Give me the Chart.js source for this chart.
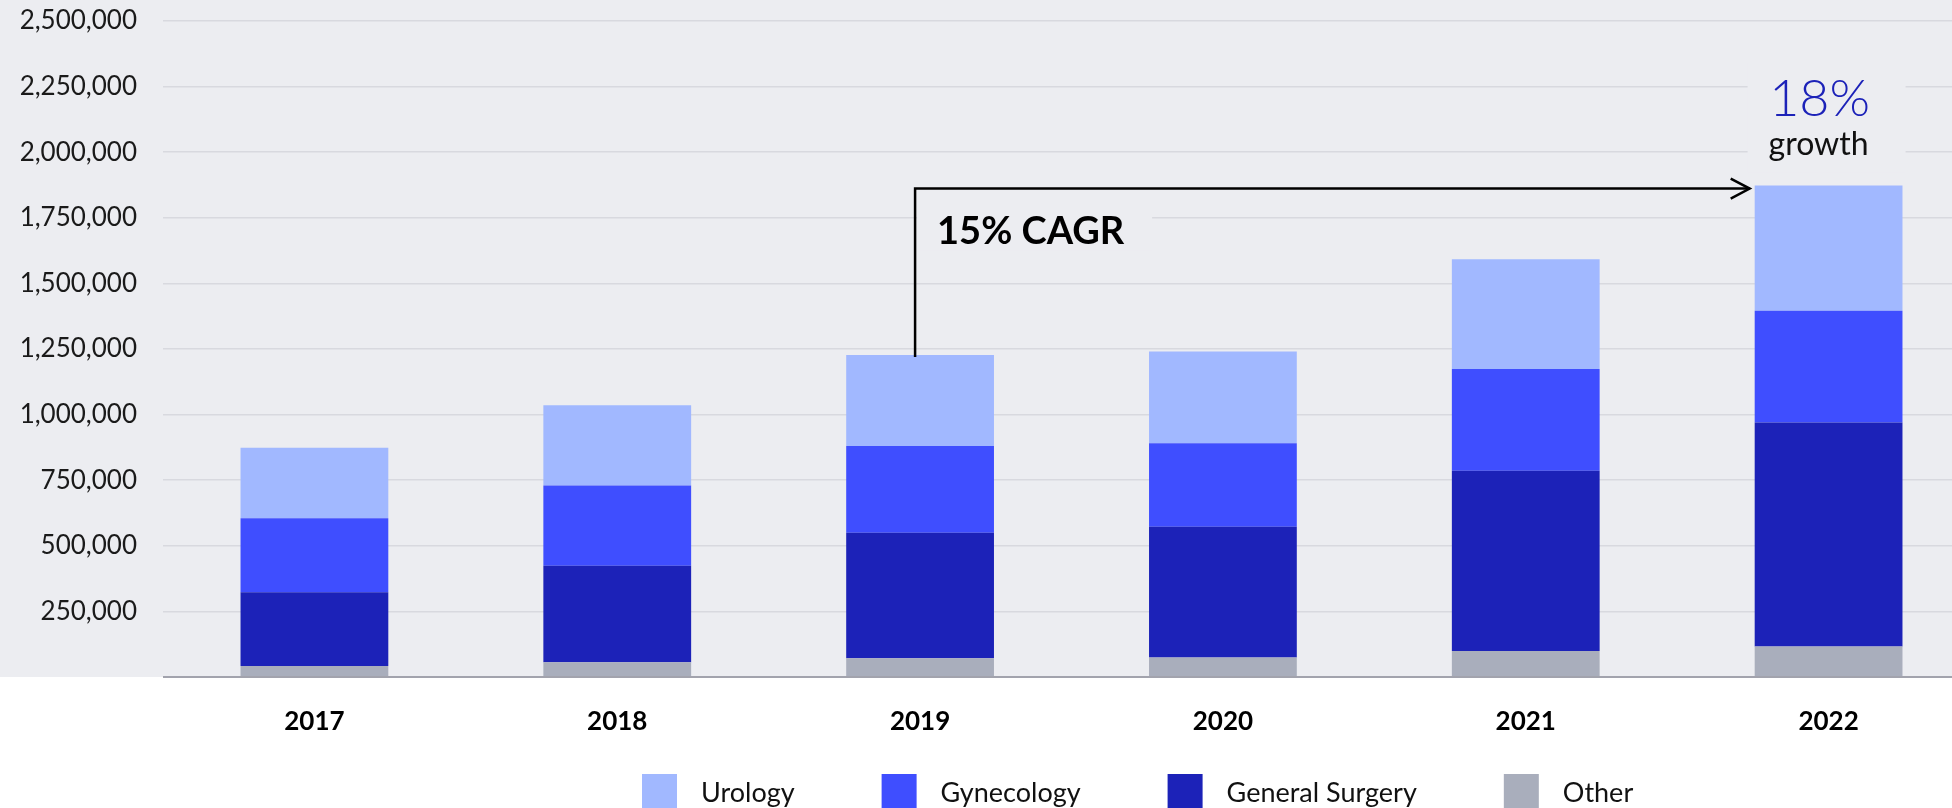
<!DOCTYPE html>
<html>
<head>
<meta charset="utf-8">
<script src="https://cdn.jsdelivr.net/npm/chart.js@4"></script>
<style>
  html, body { margin: 0; padding: 0; background: #ffffff; overflow: hidden; }
  #wrap { position: relative; width: 1980px; height: 808px; }
</style>
</head>
<body>
<div id="wrap"><canvas id="procedures_chart"></canvas></div>
<script>
// values (procedures per year)
const years           = ['2017', '2018', '2019', '2020', '2021', '2022']
const urology         = [269000, 306000, 347000, 349000, 418000, 477000]
const gynecology      = [282000, 306000, 330000, 318000, 388000, 426000]
const general_surgery = [281000, 368000, 479000, 499000, 687000, 854000]
const other           = [42000, 56000, 71000, 74000, 99000, 116000]

const y_max  = 2500000
const y_step = 250000

const cagr_label   = '15% CAGR'
const growth_pct   = '18%'
const growth_word  = 'growth'
const cagr_from    = 2   // index of 2019
const cagr_to      = 5   // index of 2022

const FONT = 'Lato, "Open Sans", sans-serif'
const BG   = '#ecedf1'

// legend order as shown under the chart
const legend_items = [
  { label: 'Urology',         color: '#a1b8ff' },
  { label: 'Gynecology',      color: '#3f4eff' },
  { label: 'General Surgery', color: '#1c22b8' },
  { label: 'Other',           color: '#a9aebc' }
]

// grey panel behind the plot, white under the axis
const panel_plugin = {
  id: 'panel',
  beforeDraw(chart) {
    const { ctx, chartArea } = chart
    ctx.save()
    ctx.fillStyle = '#ffffff'
    ctx.fillRect(0, 0, chart.width, chart.height)
    ctx.fillStyle = BG
    ctx.fillRect(0, 0, chart.width, chartArea.bottom)
    ctx.restore()
  }
}

// bracket arrow + labels
const annotation_plugin = {
  id: 'cagr_annotation',
  afterDraw(chart) {
    const { ctx } = chart
    const x_scale = chart.scales.x
    const y_scale = chart.scales.y
    const totals = years.map((_, i) => urology[i] + gynecology[i] + general_surgery[i] + other[i])
    const bar = chart.getDatasetMeta(0).data[cagr_to]
    const half_w = bar.width / 2

    const x_start = x_scale.getPixelForValue(cagr_from) - 5
    const y_start = y_scale.getPixelForValue(totals[cagr_from]) + 2
    const y_line  = y_scale.getPixelForValue(totals[cagr_to]) + 3
    const x_end   = x_scale.getPixelForValue(cagr_to) - half_w - 5

    ctx.save()
    // label backgrounds hide the grid lines
    ctx.fillStyle = BG
    ctx.fillRect(x_start + 2, y_line + 12, 235, 50)
    const gx = x_scale.getPixelForValue(cagr_to)
    ctx.fillRect(gx - 81, y_line - 126, 158, 110)

    ctx.strokeStyle = '#000000'
    ctx.lineWidth = 2.5
    ctx.beginPath()
    ctx.moveTo(x_start, y_start)
    ctx.lineTo(x_start, y_line)
    ctx.lineTo(x_end, y_line)
    ctx.stroke()
    ctx.beginPath()
    ctx.moveTo(x_end - 19, y_line - 10)
    ctx.lineTo(x_end, y_line)
    ctx.lineTo(x_end - 19, y_line + 10)
    ctx.stroke()

    ctx.fillStyle = '#000000'
    ctx.font = 'bold 38px ' + FONT
    ctx.textAlign = 'left'
    ctx.textBaseline = 'alphabetic'
    ctx.fillText(cagr_label, x_start + 22, y_line + 55)

    const bar_top = y_scale.getPixelForValue(totals[cagr_to])
    ctx.textAlign = 'center'
    ctx.fillStyle = '#1c22b8'
    ctx.font = '300 52px ' + FONT
    ctx.fillText(growth_pct, gx - 9, bar_top - 70)
    ctx.fillStyle = '#111111'
    ctx.font = '32px ' + FONT
    ctx.fillText(growth_word, gx - 10, bar_top - 31)
    ctx.restore()
  }
}

// legend under the axis labels
const legend_plugin = {
  id: 'bottom_legend',
  afterDraw(chart) {
    const { ctx } = chart
    ctx.save()
    ctx.font = '27px ' + FONT
    ctx.textBaseline = 'alphabetic'
    ctx.textAlign = 'left'
    let x = 642
    legend_items.forEach(item => {
      ctx.fillStyle = item.color
      ctx.fillRect(x, 774, 35, 37)
      ctx.fillStyle = '#111111'
      ctx.fillText(item.label, x + 59, 802)
      x += 59 + ctx.measureText(item.label).width + 87
    })
    ctx.restore()
  }
}

const ctx = document.getElementById('procedures_chart').getContext('2d')

new Chart(ctx, {
  type: 'bar',
  data: {
    labels: years,
    datasets: [
      { label: 'Other',           data: other,           backgroundColor: '#a9aebc' },
      { label: 'General Surgery', data: general_surgery, backgroundColor: '#1c22b8' },
      { label: 'Gynecology',      data: gynecology,      backgroundColor: '#3f4eff' },
      { label: 'Urology',         data: urology,         backgroundColor: '#a1b8ff' }
    ]
  },
  options: {
    responsive: true,
    maintainAspectRatio: false,
    animation: false,
    layout: { padding: { top: 21, right: 0, left: 0, bottom: 0 } },
    datasets: {
      bar: { categoryPercentage: 1, barPercentage: 0.488, borderWidth: 0 }
    },
    plugins: {
      legend: { display: false },
      tooltip: { enabled: false }
    },
    scales: {
      x: {
        stacked: true,
        grid: { display: false },
        border: { display: false },
        ticks: {
          color: '#000000',
          font: { family: FONT, size: 26, weight: 'bold' },
          padding: 21
        },
        afterFit(scale) { scale.height = 131 }
      },
      y: {
        stacked: true,
        min: 0,
        max: y_max,
        border: { display: false },
        grid: {
          drawTicks: false,
          color: c => c.tick.value === 0 ? '#a2a3ad' : '#d8d9df',
          lineWidth: c => c.tick.value === 0 ? 2 : 1.5
        },
        ticks: {
          stepSize: y_step,
          color: '#1a1a1a',
          font: { family: FONT, size: 26 },
          padding: 26,
          callback: v => v === 0 ? '' : v.toLocaleString('en-US')
        },
        afterFit(scale) {
          scale.width = 163
          scale.paddingTop = 0
          scale.paddingBottom = 0
        }
      }
    }
  },
  plugins: [panel_plugin, annotation_plugin, legend_plugin]
})
</script>
</body>
</html>
